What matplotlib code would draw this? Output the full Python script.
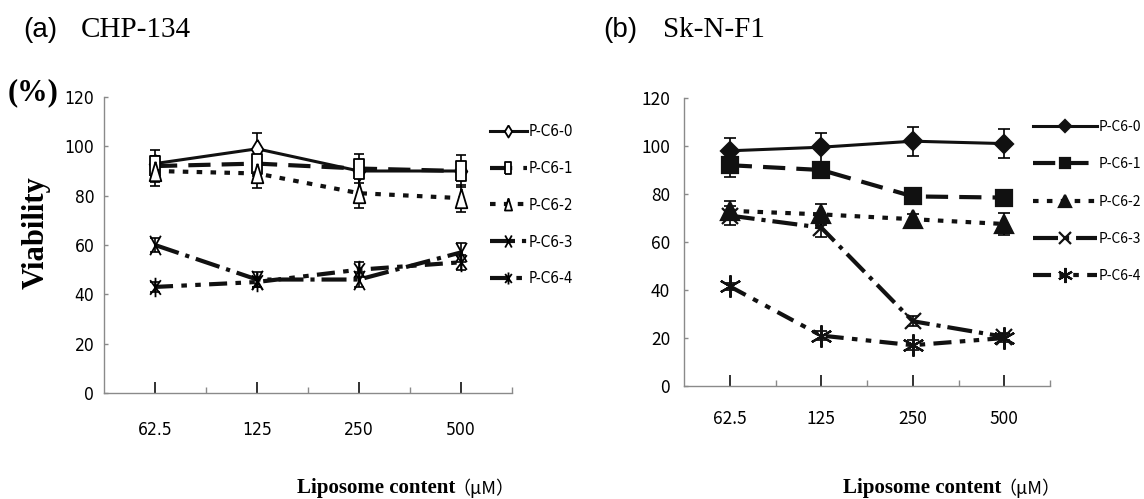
import matplotlib
matplotlib.use("Agg")
import matplotlib.pyplot as plt
from matplotlib import font_manager
from matplotlib.path import Path

# ---------------------------------------------------------------- data
concentrations = ["62.5", "125", "250", "500"]
series_names = ["P-C6-0", "P-C6-1", "P-C6-2", "P-C6-3", "P-C6-4"]

# (a) CHP-134: mean viability (%) and error
chp_p0 = [93, 99, 90, 90]
chp_p1 = [92, 93, 91, 90]
chp_p2 = [90, 89, 81, 79]
chp_p3 = [60, 46, 46, 57]
chp_p4 = [43, 45, 50, 53]
chp_p0_err = [3, 6.5, 2, 2]
chp_p1_err = [6.5, 5, 6, 6.5]
chp_p2_err = [6, 6, 6, 5.5]
chp_p3_err = [3, 3, 3, 4]
chp_p4_err = [2, 2, 3, 3]

# (b) Sk-N-F1: mean viability (%) and error
skn_p0 = [98, 99.5, 102, 101]
skn_p1 = [92, 90, 79, 78.5]
skn_p2 = [73, 71.5, 69.5, 67.5]
skn_p3 = [71, 66, 27, 20.5]
skn_p4 = [41.5, 21, 17, 20]
skn_p0_err = [5.5, 6, 6, 6]
skn_p1_err = [5, 2, 2, 2]
skn_p2_err = [4, 4.5, 2, 4.5]
skn_p3_err = [4, 4, 2, 1.5]
skn_p4_err = [1.5, 2, 2, 1.5]

y_ticks = [0, 20, 40, 60, 80, 100, 120]

# ---------------------------------------------------------------- style
plt.rcParams["lines.scale_dashes"] = False
W, H = 1144, 499

available = {f.name for f in font_manager.fontManager.ttflist}
if "Liberation Sans Narrow" in available:
    NARROW = dict(family="Liberation Sans Narrow")
else:
    NARROW = dict(family="DejaVu Sans", stretch="condensed")
GOTHIC = dict(family=["Noto Sans CJK JP", "DejaVu Sans"])
SERIF = "Liberation Serif"
SANS = "Liberation Sans"


def fx(px):
    return px / W


def fy(py):
    return 1 - py / H


# tall, narrow open markers for panel (a)
tall_diamond = Path([(0, 1), (0.6, 0), (0, -1), (-0.6, 0), (0, 1)])
tall_rect = Path([(-0.45, -0.9), (0.45, -0.9), (0.45, 0.9), (-0.45, 0.9), (-0.45, -0.9)])
tall_tri = Path([(0, 1), (0.6, -1), (-0.6, -1), (0, 1)])
tall_x = Path([(-0.55, -1), (0.55, 1), (-0.55, 1), (0.55, -1)],
              [Path.MOVETO, Path.LINETO, Path.MOVETO, Path.LINETO])
tall_star = Path([(0, -1), (0, 1), (-0.55, -0.75), (0.55, 0.75), (-0.55, 0.75), (0.55, -0.75)],
                 [Path.MOVETO, Path.LINETO, Path.MOVETO, Path.LINETO, Path.MOVETO, Path.LINETO])

line_styles = [
    "-",
    (0, (16, 8)),
    (0, (4, 6)),
    (0, (18, 5, 3, 5)),
    (0, (13, 6, 4, 6, 4, 6)),
]
line_widths = [2.2, 3.0, 3.0, 3.0, 3.0]

markers_a = [tall_diamond, tall_rect, tall_tri, tall_x, tall_star]
markers_b = ["D", "s", "^", "x", (6, 2, 0)]
msizes_b = [9.5, 11, 13, 12, 16]

fig = plt.figure(figsize=(W / 100, H / 100), dpi=100)

ax_a = fig.add_axes([fx(104), fy(393), fx(512) - fx(104), (393 - 97) / H])
ax_b = fig.add_axes([fx(684), fy(386), fx(1050) - fx(684), (386 - 98) / H])

x = list(range(len(concentrations)))


def style_axes(ax, tick_font, tick_size, xpad, ypad):
    ax.set_xlim(-0.5, 3.5)
    ax.set_ylim(0, 120)
    for s in ("top", "right"):
        ax.spines[s].set_visible(False)
    for s in ("left", "bottom"):
        ax.spines[s].set_color("#8a8a8a")
        ax.spines[s].set_linewidth(1.0)
    ax.set_yticks(y_ticks)
    ax.set_yticklabels([str(v) for v in y_ticks])
    ax.set_xticks(x)
    ax.set_xticklabels(concentrations)
    ax.set_xticks([0.5, 1.5, 2.5, 3.5], minor=True)
    ax.tick_params(axis="y", direction="in", length=3, width=1, color="#8a8a8a",
                   pad=ypad, labelsize=tick_size)
    ax.tick_params(axis="x", which="major", direction="in", length=8, width=1.3,
                   color="#222222", pad=xpad, labelsize=tick_size)
    ax.tick_params(axis="x", which="minor", direction="in", length=4.5, width=1,
                   color="#8a8a8a")
    for lab in ax.get_xticklabels() + ax.get_yticklabels():
        lab.set(**tick_font)


# ---------------------------------------------------------------- panel (a)
means_a = [chp_p0, chp_p1, chp_p2, chp_p3, chp_p4]
errs_a = [chp_p0_err, chp_p1_err, chp_p2_err, chp_p3_err, chp_p4_err]
handles_a = []
for i in range(5):
    ax_a.errorbar(x, means_a[i], yerr=errs_a[i], fmt="none", ecolor="black",
                  elinewidth=1.2, capsize=3.5, capthick=1.2, zorder=2)
    filled = i < 3
    ln, = ax_a.plot(x, means_a[i], color="#111111", linestyle=line_styles[i],
                    linewidth=line_widths[i], marker=markers_a[i], markersize=14,
                    markerfacecolor="white" if filled else "none",
                    markeredgecolor="black", markeredgewidth=1.3,
                    label=series_names[i], zorder=3 + i)
    handles_a.append(ln)

style_axes(ax_a, NARROW, 12.5, 20, 7)

ax_a.legend(handles=handles_a, loc="upper left", bbox_to_anchor=(fx(490), fy(124)),
            bbox_transform=fig.transFigure, frameon=False, borderpad=0,
            borderaxespad=0, handlelength=2.4, handletextpad=0.15,
            labelspacing=1.43, numpoints=1, markerscale=0.62,
            prop=font_manager.FontProperties(size=11, **NARROW))

# ---------------------------------------------------------------- panel (b)
means_b = [skn_p0, skn_p1, skn_p2, skn_p3, skn_p4]
errs_b = [skn_p0_err, skn_p1_err, skn_p2_err, skn_p3_err, skn_p4_err]
handles_b = []
for i in range(5):
    ax_b.errorbar(x, means_b[i], yerr=errs_b[i], fmt="none", ecolor="black",
                  elinewidth=1.2, capsize=4.5, capthick=1.2, zorder=2)
    ln, = ax_b.plot(x, means_b[i], color="#111111", linestyle=line_styles[i],
                    linewidth=line_widths[i], marker=markers_b[i], markersize=msizes_b[i],
                    markerfacecolor="#111111", markeredgecolor="#111111",
                    markeredgewidth=1.6, label=series_names[i], zorder=3 + i)
    handles_b.append(ln)

style_axes(ax_b, GOTHIC, 12.5, 17, 10)

ax_b.legend(handles=handles_b, loc="upper left", bbox_to_anchor=(fx(1033), fy(120)),
            bbox_transform=fig.transFigure, frameon=False, borderpad=0,
            borderaxespad=0, handlelength=4.6, handletextpad=0.15,
            labelspacing=1.68, numpoints=1, markerscale=0.68,
            prop=font_manager.FontProperties(size=10, family=["Noto Sans CJK JP", "DejaVu Sans"]))

# ---------------------------------------------------------------- text
fig.text(fx(23), fy(37), "(a)", family=SANS, fontsize=20, va="baseline", ha="left")
fig.text(fx(81), fy(37), "CHP-134", family=SERIF, fontsize=21, va="baseline", ha="left")
fig.text(fx(603), fy(37), "(b)", family=SANS, fontsize=20, va="baseline", ha="left")
fig.text(fx(663), fy(37), "Sk-N-F1", family=SERIF, fontsize=21, va="baseline", ha="left")

fig.text(fx(8), fy(93), "(%)", family=SERIF, fontweight="bold", fontsize=22,
         va="center", ha="left")
fig.text(fx(36), fy(233), "Viability", family=SERIF, fontweight="bold", fontsize=22,
         rotation=90, va="center", ha="center")

for left in (297, 843):
    fig.text(fx(left), fy(488), "Liposome content", family=SERIF, fontweight="bold",
             fontsize=15, va="center", ha="left")
    fig.text(fx(left + 155), fy(488), "（μM）", fontsize=13, va="center", ha="left",
             **GOTHIC)

fig.savefig("out.png", dpi=100)
